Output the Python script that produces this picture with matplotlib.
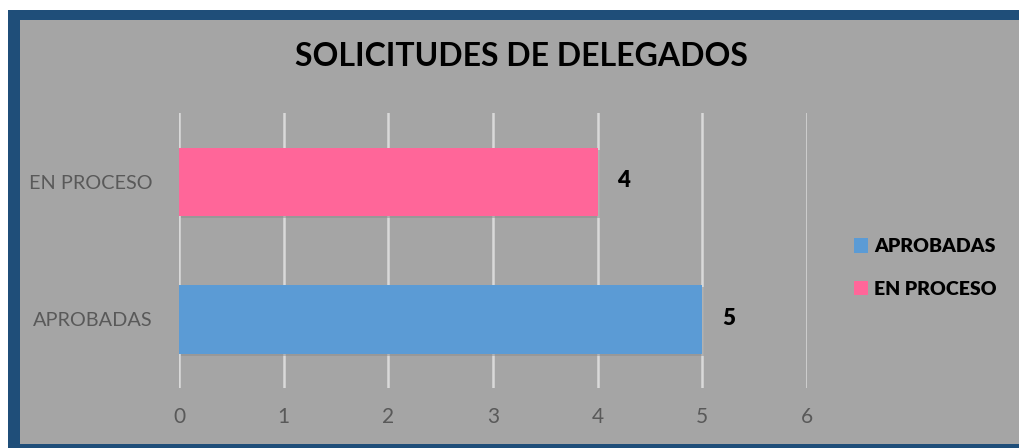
import matplotlib.pyplot as plt
from matplotlib.patches import Rectangle

categories = ['APROBADAS', 'EN PROCESO']
values = [5, 4]
bar_colors = ['#5B9BD5', '#FF6699']
x_ticks = [0, 1, 2, 3, 4, 5, 6]
title = 'SOLICITUDES DE DELEGADOS'

plt.rcParams['font.family'] = ['Lato', 'DejaVu Sans']

W, H = 1019, 448
fig = plt.figure(figsize=(W / 100, H / 100), dpi=100, facecolor='white')

# marco azul y fondo gris
fig.patches.append(Rectangle((8 / W, 0), 1, (H - 10) / H, transform=fig.transFigure,
                             facecolor='#1F4E79', edgecolor='none', zorder=-2))
fig.patches.append(Rectangle((20 / W, 4 / H), 1, 424 / H, transform=fig.transFigure,
                             facecolor='#A5A5A5', edgecolor='none', zorder=-1))

ax = fig.add_axes([179 / W, 60 / H, 628 / W, 274.5 / H])
ax.set_facecolor('none')

ypos = range(len(categories))
for i, (v, c) in enumerate(zip(values, bar_colors)):
    # sombra ligera
    ax.barh(i - 0.015, v, height=0.5, left=0.02, color='#8C8C8C', alpha=0.5, zorder=2)
    ax.barh(i, v, height=0.5, color=c, label=categories[i], zorder=3)
    ax.text(v + 0.19, i + 0.01, str(v), fontsize=16, fontweight='heavy',
            color='black', va='center', ha='left', zorder=4)

ax.set_xlim(0, 6)
ax.set_ylim(-0.5, 1.5)
ax.set_xticks(x_ticks)
ax.set_xticklabels([str(t) for t in x_ticks])
ax.set_yticks(list(ypos))
ax.set_yticklabels(categories)
ax.grid(axis='x', color='#D9D9D9', linewidth=1.8, zorder=1)
ax.set_axisbelow(True)
for s in ax.spines.values():
    s.set_visible(False)
ax.tick_params(axis='both', length=0, labelcolor='#595959')
ax.tick_params(axis='x', pad=14, labelsize=15)
ax.tick_params(axis='y', pad=19, labelsize=14.3)

fig.text(521 / W, 1 - 57 / H, title, fontsize=23, fontweight='bold',
         ha='center', va='center', color='black')

handles, labels = ax.get_legend_handles_labels()
leg = fig.legend(handles, labels, loc='center left', bbox_to_anchor=(836 / W, 1 - 268 / H),
                 frameon=False, handlelength=0.75, handleheight=0.75, handletextpad=0.3,
                 labelspacing=1.3, prop={'size': 14, 'weight': 'heavy'})

fig.savefig('out.png', dpi=100, facecolor='white')
